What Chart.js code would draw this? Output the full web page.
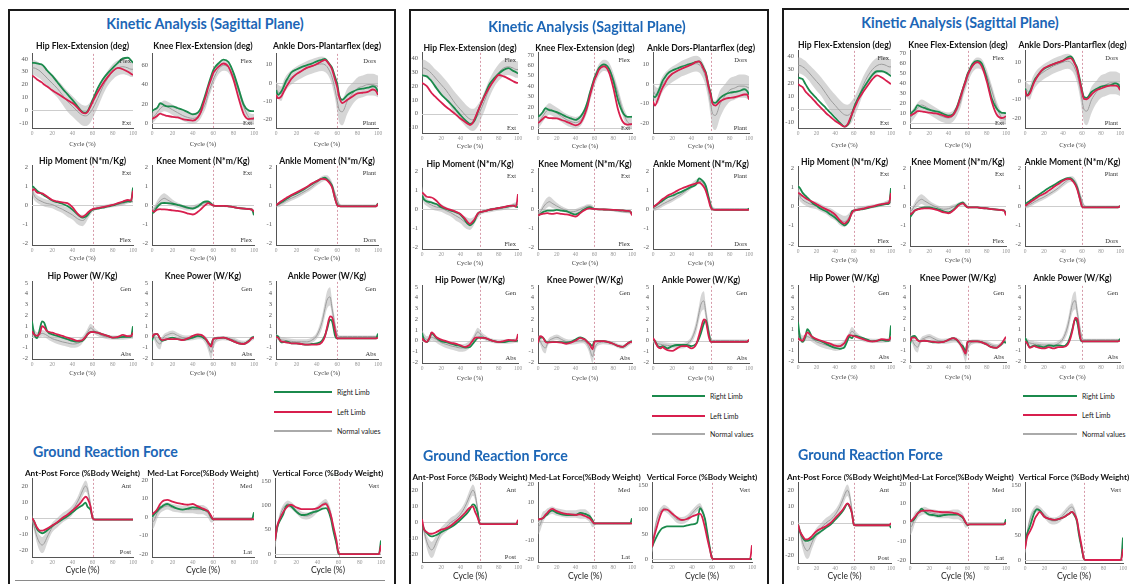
<!DOCTYPE html>
<html><head><meta charset="utf-8">
<script src="https://cdn.jsdelivr.net/npm/chart.js"></script>
<style>
html,body{margin:0;padding:0;background:#fff;}
#page{position:relative;width:1129px;height:584px;overflow:hidden;background:#fff;font-family:Lato,'Open Sans',sans-serif;}
.t{position:absolute;white-space:nowrap;line-height:1;}
canvas{position:absolute;}
</style></head><body><div id="page"></div>
<script>
// ---- shared x grid (gait cycle %) and tick labels ----
const CYCLE = [0,2,5,8,10,12,15,20,25,30,35,40,45,48,50,53,55,58,60,62,65,70,75,80,85,90,95,98,100];
const X_TICKS = [0,20,40,60,80,100];
const HIPFLEX_TICKS = [-10,0,10,20,30,40];
const KNEEFLEX_TICKS = [0,10,20,30,40,50,60,70];
const ANKLEDF_TICKS = [-20,-10,0,10];
const MOM_TICKS = [-2,-1,0,1,2];
const POW_TICKS = [-2,-1,0,1,2,3,4,5];
const APF_TICKS = [-20,-10,0,10,20];
const MLF_TICKS = [-20,-15,-10,-5,0,5,10,15,20];
const VF_TICKS = [0,50,100,150];

// ---- normal values (mean, lower, upper) ----
const N_HIPFLEX_MEAN = [33,33,32,30.5,29,27.5,25,21,17,12,7,3,-1,-3,-4,-4.5,-4,-1.5,1,4,9,18,25,30,33,34,33,32,32];
const N_HIPFLEX_LO = [27,27,26,24.5,23,21.5,18.5,14,10,4.5,-1,-5,-9,-11,-12,-12.5,-12,-9.5,-6.5,-3,2,11.5,19,24,27,28,27,26,26];
const N_HIPFLEX_HI = [39,39,38,36.5,35,33.5,31.5,28,24,19.5,15,11,7,5,4,3.5,4,6.5,8.5,11,16,24.5,31,36,39,40,39,38,38];
const N_KNEEFLEX_MEAN = [5,7,11,15,17,18,17,14,11,8,6,5,7,11,15,22,30,39,45,50,56,60,58,48,33,17,6,4,4];
const N_KNEEFLEX_LO = [-0.5,1.5,5.5,9.5,11.5,12.5,11.5,8.5,5.5,2.5,0.5,-0.5,1.5,5.5,9.5,16.5,24.5,33.5,39.5,44.5,50.5,54.5,52.5,42.5,27.5,11.5,0.5,-1.5,-1.5];
const N_KNEEFLEX_HI = [10.5,12.5,16.5,20.5,22.5,23.5,22.5,19.5,16.5,13.5,11.5,10.5,12.5,16.5,20.5,27.5,35.5,44.5,50.5,55.5,61.5,65.5,63.5,53.5,38.5,22.5,11.5,9.5,9.5];
const N_ANKLEDF_MEAN = [-3,-5,-6,-2,0,1.5,3,5,6.5,8,9,10,10.5,10,9,6,3,-4,-10,-15,-16,-10,-6,-3,-2,-1,-1,-1.5,-2];
const N_ANKLEDF_LO = [-7,-9,-10,-6,-4,-2.5,-1,1,2.5,4,5,6,6.5,6,5,2,-1.5,-9,-16,-22,-23.5,-17,-12,-9,-8,-7,-7,-7.5,-8];
const N_ANKLEDF_HI = [1,-1,-2,2,4,5.5,7,9,10.5,12,13,14,14.5,14,13,10,7.5,1,-4,-8,-8.5,-3,0,3,4,5,5,4.5,4];
const N_HIPMOM_MEAN = [0.9,0.55,0.35,0.25,0.2,0.15,0.1,0.05,-0.08,-0.2,-0.35,-0.5,-0.7,-0.78,-0.8,-0.7,-0.55,-0.35,-0.25,-0.18,-0.12,-0.08,-0.03,0,0.05,0.1,0.2,0.25,0.2];
const N_HIPMOM_LO = [0.6,0.3,0.15,0.05,0,-0.05,-0.1,-0.15,-0.28,-0.4,-0.6,-0.75,-1,-1.08,-1.1,-0.95,-0.75,-0.5,-0.35,-0.28,-0.22,-0.18,-0.13,-0.1,-0.05,0,0.1,0.15,0.1];
const N_HIPMOM_HI = [1.2,0.8,0.55,0.45,0.4,0.35,0.3,0.25,0.12,0,-0.1,-0.25,-0.4,-0.48,-0.5,-0.45,-0.35,-0.2,-0.15,-0.08,-0.02,0.02,0.07,0.1,0.15,0.2,0.3,0.35,0.3];
const N_KNEEMOM_MEAN = [-0.3,-0.2,0.05,0.25,0.33,0.38,0.3,0.15,0.02,-0.08,-0.15,-0.12,-0.02,0.05,0.1,0.15,0.15,0.1,0,-0.03,-0.03,-0.03,-0.05,-0.08,-0.12,-0.15,-0.17,-0.2,-0.3];
const N_KNEEMOM_LO = [-0.45,-0.35,-0.15,0,0.08,0.13,0.05,-0.02,-0.12,-0.2,-0.27,-0.24,-0.14,-0.05,0,0.05,0.05,0,-0.06,-0.08,-0.08,-0.08,-0.1,-0.13,-0.17,-0.2,-0.22,-0.25,-0.35];
const N_KNEEMOM_HI = [-0.15,-0.05,0.25,0.5,0.6,0.65,0.55,0.32,0.16,0.04,-0.03,0,0.1,0.15,0.2,0.25,0.25,0.2,0.06,0.02,0.02,0.02,0,-0.03,-0.07,-0.1,-0.12,-0.15,-0.25];
const N_ANKLEMOM_MEAN = [0,0.03,0.1,0.18,0.25,0.3,0.38,0.5,0.65,0.8,0.98,1.2,1.4,1.45,1.45,1.3,1.1,0.6,0.3,0.05,0,0,0,0,0,0,0,0,0];
const N_ANKLEMOM_LO = [-0.1,-0.1,-0.03,0.05,0.12,0.17,0.25,0.37,0.52,0.67,0.85,1.06,1.25,1.3,1.3,1.15,0.95,0.45,0.15,-0.05,-0.05,-0.05,-0.05,-0.05,-0.05,-0.05,-0.05,-0.05,-0.05];
const N_ANKLEMOM_HI = [0.1,0.15,0.23,0.31,0.38,0.43,0.51,0.63,0.78,0.93,1.11,1.34,1.55,1.6,1.6,1.45,1.25,0.75,0.45,0.15,0.05,0.05,0.05,0.05,0.05,0.05,0.05,0.05,0.05];
const N_HIPPOW_MEAN = [0.5,0.3,0.1,0.2,0.3,0.25,0.1,-0.2,-0.35,-0.5,-0.6,-0.7,-0.65,-0.5,-0.3,0.1,0.4,0.8,0.7,0.5,0.3,0.05,-0.05,-0.1,-0.1,-0.1,-0.05,0,0];
const N_HIPPOW_LO = [0,-0.1,-0.2,-0.1,0,-0.05,-0.2,-0.5,-0.7,-0.85,-0.95,-1.05,-1,-0.85,-0.6,-0.2,0.05,0.4,0.35,0.2,0.05,-0.15,-0.25,-0.3,-0.3,-0.3,-0.25,-0.2,-0.2];
const N_HIPPOW_HI = [1,0.7,0.4,0.5,0.6,0.55,0.4,0.1,0,-0.15,-0.25,-0.35,-0.3,-0.15,0,0.4,0.75,1.2,1.05,0.8,0.55,0.25,0.15,0.1,0.1,0.1,0.15,0.2,0.2];
const N_KNEEPOW_MEAN = [0.2,0,-0.5,-0.7,-0.3,0,0.15,0.3,0.1,-0.1,-0.15,-0.1,0,0,-0.1,-0.4,-0.8,-1.5,-0.8,-0.4,-0.2,-0.15,-0.2,-0.3,-0.5,-0.6,-0.4,-0.2,-0.1];
const N_KNEEPOW_LO = [-0.1,-0.3,-1,-1.2,-0.6,-0.25,-0.1,0.05,-0.15,-0.35,-0.4,-0.35,-0.25,-0.25,-0.35,-0.8,-1.3,-2.1,-1.3,-0.7,-0.45,-0.35,-0.4,-0.5,-0.7,-0.8,-0.6,-0.4,-0.3];
const N_KNEEPOW_HI = [0.5,0.3,0,-0.2,0,0.25,0.4,0.55,0.35,0.15,0.1,0.15,0.25,0.25,0.15,0,-0.3,-0.9,-0.3,-0.1,0.05,0.05,0,-0.1,-0.3,-0.4,-0.2,0,0.1];
const N_ANKLEPOW_MEAN = [0,-0.1,-0.3,-0.35,-0.4,-0.42,-0.45,-0.5,-0.5,-0.5,-0.35,0.1,1.3,2.6,3.4,3.7,2.6,1,0.2,0,0,0,0,0,0,0,0,0,0];
const N_ANKLEPOW_LO = [-0.25,-0.35,-0.55,-0.6,-0.65,-0.67,-0.7,-0.75,-0.75,-0.75,-0.6,-0.2,0.7,1.9,2.6,2.9,1.9,0.5,0,-0.1,-0.1,-0.1,-0.1,-0.1,-0.1,-0.1,-0.1,-0.1,-0.1];
const N_ANKLEPOW_HI = [0.25,0.15,-0.05,-0.1,-0.15,-0.17,-0.2,-0.25,-0.25,-0.25,-0.1,0.4,1.9,3.3,4.2,4.6,3.3,1.5,0.4,0.1,0.1,0.1,0.1,0.1,0.1,0.1,0.1,0.1,0.1];
const N_APF_MEAN = [0,-5,-12,-16,-17,-16,-12,-6,-3,0,2,5,10,14,17,20,18,8,0,-1,-1,-1,-1,-1,-1,-1,-1,-1,-1];
const N_APF_LO = [-2,-8,-16,-21,-22,-21,-16,-9,-6,-3,-1,2,7,10.5,13.5,16.5,14.5,5,-2,-1.3,-1.3,-1.3,-1.3,-1.3,-1.3,-1.3,-1.3,-1.3,-1.3];
const N_APF_HI = [2,-2,-8,-11,-12,-11,-8,-3,0,3,5,8,13,17.5,20.5,23.5,21.5,11,2,-0.7,-0.7,-0.7,-0.7,-0.7,-0.7,-0.7,-0.7,-0.7,-0.7];
const N_MLF_MEAN = [-3,-2,2,4,5,5.5,6,5,4.5,4,4,4,4,4,4,3,2,-1,-1.5,-1.2,-1.2,-1.2,-1.2,-1.2,-1.2,-1.2,-1.2,-1.2,-1.2];
const N_MLF_LO = [-7,-5.5,-1,2,3,3.5,4,3,2.5,2,2,2,1.5,1.5,1.5,0.5,-0.5,-3,-2.5,-1.5,-1.5,-1.5,-1.5,-1.5,-1.5,-1.5,-1.5,-1.5,-1.5];
const N_MLF_HI = [1,1.5,5,6,7,7.5,8,7,6.5,6,6,6,6.5,6.5,6.5,5.5,4.5,1,-0.5,-0.9,-0.9,-0.9,-0.9,-0.9,-0.9,-0.9,-0.9,-0.9,-0.9];
const N_VF_MEAN = [15,50,80,95,100,103,100,90,80,78,82,92,103,106,100,80,55,20,2,0,0,0,0,0,0,0,0,0,0];
const N_VF_LO = [10,42,72,88,93,96,93,83,73,71,75,85,96,99,93,72,47,13,0,0,0,0,0,0,0,0,0,0,0];
const N_VF_HI = [20,58,88,102,107,110,107,97,87,85,89,99,110,113,107,88,63,27,4,0,0,0,0,0,0,0,0,0,0];

// ---- panel 1 (R = right limb / green, L = left limb / red) ----
const P1_HIPFLEX_R = [37,37,36.5,36,35.5,34,31,27,22,17,12.5,8,3,0,-1.5,-2,-1,4,8,11.5,17,24,29,33,37,40.5,41,39,37];
const P1_HIPFLEX_L = [27,26,24,22.5,21.5,20,18.5,15.5,13,10.5,8,5.5,2,-0.5,-2,-2.5,-1.5,3,6.5,9.5,14,20.5,26,30.5,33,32,30,28.5,27.5];
const P1_KNEEFLEX_R = [12.5,14,15.8,20.7,20,18.5,17.4,17.4,15.8,14,11.5,9.2,11,16,22,32,39,49,55,58.5,62,66,63.5,52,35.5,19,13,12.5,12.5];
const P1_KNEEFLEX_L = [4.3,5.5,7.5,10,9.2,8.5,7.5,6.6,6,4.3,3.3,2.6,6,12,19,29,37,46,52,55,58.5,62,58.5,45,25.6,9.2,4.3,4.8,5.3];
const P1_ANKLEDF_R = [-4,-6.7,-5,-1.5,1.2,3,5.7,7.4,8.7,9.7,10.6,11.9,12.7,13.3,12.2,10,8.3,3,-0.5,-7,-9.4,-6.7,-5,-3.7,-3.2,-2.7,-1.9,-2.7,-5];
const P1_ANKLEDF_L = [-6.7,-8.5,-7.6,-4.5,-2.3,-0.5,2.1,4.8,6.5,8.3,9.2,10.4,11.9,12.7,11.9,9.5,7.4,1.5,-2.3,-8,-11.2,-9.4,-7.6,-5.8,-5.5,-5,-3.7,-4.5,-6.7];
const P1_HIPMOM_R = [1.03,0.95,0.78,0.67,0.6,0.53,0.43,0.26,0.17,0.09,-0.03,-0.22,-0.47,-0.6,-0.64,-0.6,-0.52,-0.3,-0.22,-0.2,-0.17,-0.12,-0.05,0,0.09,0.17,0.22,0.2,0.95];
const P1_HIPMOM_L = [0.78,0.86,0.69,0.66,0.64,0.58,0.47,0.29,0.21,0.16,0.12,-0.09,-0.43,-0.57,-0.6,-0.5,-0.4,-0.25,-0.2,-0.17,-0.14,-0.09,-0.03,0.03,0.12,0.21,0.29,0.26,0.78];
const P1_KNEEMOM_R = [-0.43,-0.34,-0.09,0.08,0.12,0.13,0.12,0.09,0.03,-0.03,-0.12,-0.17,-0.05,0.08,0.17,0.21,0.21,0.09,0,-0.02,-0.02,-0.02,-0.05,-0.09,-0.14,-0.17,-0.19,-0.22,-0.52];
const P1_KNEEMOM_L = [-0.26,-0.34,-0.22,-0.2,-0.21,-0.21,-0.22,-0.26,-0.29,-0.34,-0.43,-0.48,-0.34,-0.2,-0.09,0.05,0.12,0.05,0,-0.02,-0.02,-0.02,-0.05,-0.09,-0.14,-0.17,-0.19,-0.22,-0.34];
const P1_ANKLEMOM_R = [0,0.07,0.17,0.27,0.34,0.41,0.52,0.64,0.78,0.95,1.12,1.29,1.43,1.47,1.38,1.2,1.03,0.34,0.05,-0.04,-0.05,-0.05,-0.05,-0.05,-0.05,-0.05,-0.05,-0.05,0.12];
const P1_ANKLEMOM_L = [0,0.09,0.22,0.33,0.4,0.46,0.55,0.69,0.83,0.98,1.16,1.29,1.41,1.4,1.34,1.15,0.95,0.35,0,-0.04,-0.05,-0.05,-0.05,-0.05,-0.05,-0.05,-0.05,-0.05,0.09];
const P1_HIPPOW_R = [1.42,0.3,-0.15,0.8,1.42,1.3,0.5,0.2,0.06,-0.1,-0.24,-0.4,-0.48,-0.45,-0.4,-0.1,0.2,0.42,0.45,0.42,0.36,0.2,0.06,-0.1,-0.1,-0.03,-0.03,-0.03,0.97];
const P1_HIPPOW_L = [0.5,0.2,0.06,0.36,0.97,0.85,0.5,0.36,0.2,0.06,-0.1,-0.24,-0.4,-0.38,-0.33,-0.05,0.2,0.4,0.42,0.4,0.36,0.2,0.06,-0.1,-0.03,0.15,0.03,0.03,0.36];
const P1_KNEEPOW_R = [-0.4,0.15,0.25,-0.24,-0.4,-0.35,-0.24,-0.1,-0.24,-0.3,-0.24,-0.1,0.06,0,-0.1,-0.3,-0.55,-0.76,-0.24,-0.18,-0.15,-0.1,-0.24,-0.45,-0.64,-0.7,-0.4,-0.1,-0.03];
const P1_KNEEPOW_L = [-0.1,0.2,0.25,-0.18,-0.33,-0.3,-0.24,-0.24,-0.24,-0.33,-0.18,0.06,0.2,0.15,0.06,-0.25,-0.55,-0.94,-0.24,-0.18,-0.15,-0.1,-0.24,-0.45,-0.64,-0.7,-0.45,-0.15,-0.1];
const P1_ANKLEPOW_R = [0.06,0,-0.55,-0.5,-0.45,-0.5,-0.64,-0.64,-0.7,-0.76,-0.7,-0.64,-0.4,0.1,0.67,1.58,1.42,0.06,-0.18,-0.18,-0.18,-0.18,-0.18,-0.18,-0.18,-0.18,-0.18,-0.18,0.27];
const P1_ANKLEPOW_L = [-0.03,-0.1,-0.45,-0.5,-0.55,-0.58,-0.64,-0.64,-0.7,-0.76,-0.76,-0.76,-0.55,0,0.82,1.88,1.8,0.5,-0.18,-0.18,-0.18,-0.18,-0.18,-0.18,-0.18,-0.18,-0.18,-0.18,-0.1];
const P1_APF_R = [0,-2,-7,-9,-9.6,-9.2,-7.8,-5,-3,-1,1,3.5,6,7.2,8,9.6,7,5,0,-1,-1,-1,-1,-1,-1,-1,-1,-1,-1];
const P1_APF_L = [0,-2,-6,-8,-8,-7.6,-6.7,-4.7,-2.7,0,2,4.7,7.5,9.5,11.2,13.3,12.2,7,0,-1,-1,-1,-1,-1,-1,-1,-1,-1,-1];
const P1_MLF_R = [0,1.4,3.1,5,5.7,6.5,7,5.7,4.5,4,4.5,5.2,4.9,4.5,4,3.5,3.1,0,-1.2,-1.2,-1.2,-1.2,-1.2,-1.2,-1.2,-1.2,-1.2,-1.2,2.6];
const P1_MLF_L = [1.4,2.3,4,7,8.3,9,9.2,8.3,7.5,7,6.6,7,5.7,5,4.5,3.7,3.1,0.5,-1.2,-1.2,-1.2,-1.2,-1.2,-1.2,-1.2,-1.2,-1.2,-1.2,-1.2];
const P1_VF_R = [28,54,70,83,96,100,98,87,80,81,85,88,93,94,90,70,48,21,0.5,0,0,0,0,0,0,0,0,0,28];
const P1_VF_L = [28,57,74,87,93,98,101,96,92,92,92,94,101,103,96,77,57,28,2,0,0,0,0,0,0,0,0,0,18];

// ---- panel 2 ----
const P2_HIPFLEX_R = [28,27.5,27,25,23.5,21.5,18.5,14,10.5,7,3,-1,-4.7,-6.5,-7.5,-6.5,-4.7,1,4.7,8,13,21,25.5,29,31.7,33,31,30,29];
const P2_HIPFLEX_L = [22.3,21.5,20,17,15,13.5,11.5,8.2,5,2.3,-0.5,-3.5,-6,-7.5,-8.2,-6.5,-3.5,1.5,4.7,8,12.5,18.8,24,28,27,25.4,23.5,22.5,22.3];
const P2_KNEEFLEX_R = [10.6,12,15,18.8,18,17,16.5,15,13,10.6,9,7.6,10.6,14.5,18,26,33,42,48,52,57.6,61,57.6,45.5,27,15,10.6,10.5,10.6];
const P2_KNEEFLEX_L = [4.5,6,8.5,10.6,9.7,9.3,9.2,9,7.5,6,4,2.4,4.5,9,13.6,22,30,40,46,50,56,59,54.5,39,18,6,3,3.3,3.6];
const P2_ANKLEDF_R = [-6,-6.7,-4.4,-0.8,1.7,3.2,5.3,7,8,9,9.8,10.5,11.4,11.7,11,8,6,-1,-4.4,-9,-9.6,-7,-5.3,-4.4,-4,-3.5,-2.6,-3.5,-5.3];
const P2_ANKLEDF_L = [-8.8,-11,-7.9,-4,-1.8,0,2.6,5.3,6.7,7.9,9,10,11.4,11.7,10.5,7.5,5.3,-1.5,-5.3,-10,-11,-8.8,-7.5,-7,-6.7,-6,-5.3,-5.3,-7.9];
const P2_HIPMOM_R = [0.7,0.5,0.4,0.36,0.34,0.3,0.26,0.09,0,-0.09,-0.17,-0.29,-0.6,-0.8,-0.86,-0.75,-0.6,-0.25,-0.17,-0.15,-0.12,-0.05,0,0.05,0.09,0.14,0.17,0.12,0.09];
const P2_HIPMOM_L = [0.86,0.78,0.64,0.62,0.6,0.55,0.43,0.17,0.03,-0.05,-0.14,-0.26,-0.52,-0.72,-0.78,-0.65,-0.52,-0.25,-0.17,-0.15,-0.12,-0.05,0,0.05,0.09,0.16,0.17,0.12,0.78];
const P2_KNEEMOM_R = [-0.34,-0.29,-0.17,-0.11,-0.09,-0.09,-0.09,-0.05,-0.09,-0.12,-0.22,-0.29,-0.17,-0.06,0,0.07,0.09,0.03,0,-0.01,-0.02,-0.03,-0.04,-0.05,-0.06,-0.08,-0.1,-0.12,-0.26];
const P2_KNEEMOM_L = [-0.34,-0.29,-0.26,-0.23,-0.22,-0.24,-0.26,-0.22,-0.26,-0.29,-0.34,-0.4,-0.22,-0.11,-0.05,0.02,0.03,0,0,-0.01,-0.02,-0.03,-0.04,-0.05,-0.06,-0.08,-0.1,-0.12,-0.34];
const P2_ANKLEMOM_R = [0.09,0.15,0.26,0.36,0.43,0.5,0.6,0.69,0.81,0.91,1.03,1.16,1.29,1.6,1.55,1.4,1.21,0.6,0.17,-0.03,-0.05,-0.05,-0.05,-0.05,-0.05,-0.05,-0.05,-0.05,0.03];
const P2_ANKLEMOM_L = [0.09,0.17,0.29,0.43,0.52,0.58,0.69,0.81,0.95,1.07,1.17,1.26,1.34,1.38,1.33,1.15,0.95,0.45,0.09,-0.03,-0.05,-0.05,-0.05,-0.05,-0.05,-0.05,-0.05,-0.05,-0.05];
const P2_HIPPOW_R = [0.7,0.09,-0.15,0.24,0.7,0.55,0.24,-0.06,-0.15,-0.3,-0.42,-0.52,-0.67,-0.64,-0.6,-0.3,-0.06,0.24,0.3,0.28,0.24,0.09,-0.06,-0.15,-0.15,-0.06,0,-0.06,0];
const P2_HIPPOW_L = [0.24,0,-0.12,0.3,0.76,0.64,0.3,0.09,-0.06,-0.21,-0.3,-0.45,-0.6,-0.5,-0.36,0,0.24,0.3,0.24,0.24,0.24,0.09,-0.06,-0.15,-0.06,0.06,0,0,0.6];
const P2_KNEEPOW_R = [-0.2,0.24,0.3,-0.06,-0.15,-0.15,-0.15,-0.12,-0.15,-0.2,-0.12,0.09,0.3,0.2,0.09,-0.15,-0.3,-0.5,-0.06,-0.06,-0.06,-0.06,-0.15,-0.3,-0.5,-0.6,-0.3,-0.12,-0.06];
const P2_KNEEPOW_L = [-0.2,0.4,0.3,-0.12,-0.2,-0.17,-0.15,-0.15,-0.2,-0.3,-0.2,0,0.24,0.15,0.09,-0.2,-0.36,-0.82,-0.12,-0.08,-0.06,-0.06,-0.15,-0.3,-0.5,-0.6,-0.3,-0.15,-0.12];
const P2_ANKLEPOW_R = [0.09,-0.06,-0.52,-0.6,-0.52,-0.6,-0.73,-0.52,-0.42,-0.42,-0.42,-0.52,-0.3,0.2,0.7,1.6,1.9,0.7,-0.06,-0.12,-0.12,-0.12,-0.12,-0.12,-0.12,-0.12,-0.12,-0.12,0];
const P2_ANKLEPOW_L = [0.24,-0.06,-0.6,-0.73,-0.6,-0.75,-0.9,-0.97,-0.73,-0.52,-0.52,-0.73,-0.36,0.5,1.15,1.97,1.8,0.4,-0.12,-0.12,-0.12,-0.12,-0.12,-0.12,-0.12,-0.12,-0.12,-0.12,0.09];
const P2_APF_R = [-1,-4,-6.5,-8.2,-8.6,-8.4,-7.8,-6,-4.5,-3,-1,1.6,4.5,6.5,8.2,11.2,10.6,6,-0.6,-1,-1,-1,-1,-1,-1,-1,-1,-1,-1];
const P2_APF_L = [2,-4,-6,-7,-7,-6.8,-6,-4.5,-3.7,-2,0.4,3,6,8.2,9.2,10,7,3,-0.6,-1,-1,-1,-1,-1,-1,-1,-1,-1,1.6];
const P2_MLF_R = [1.2,1.2,1.7,3,3.8,5,5.8,4.6,3.8,3.4,3.4,3.4,4.6,4.3,4.1,3.4,2.9,0.7,-1,-1,-1,-1,-1,-1,-1,-1,-1,-1,1.7];
const P2_MLF_L = [1.2,1.2,1.7,3.5,4.6,5.8,6.7,5.5,4.6,4.1,3.8,3.4,3.8,3.3,2.9,2.2,1.7,0,-1,-1,-1,-1,-1,-1,-1,-1,-1,-1,-1];
const P2_VF_R = [24,34,47,57,62,64,66,66,66,66,68,70,73,103,98,81,57,21,2,0,0,0,0,0,0,0,0,0,0];
const P2_VF_L = [24,44,66,86,96,100,100,92,84,79,81,86,90,92,86,63,44,18,2,0,0,0,0,0,0,0,0,0,28];

// ---- panel 3 ----
const P3_HIPFLEX_R = [24,23.5,22.7,19,16.7,14.5,12,8.2,4.5,1,-2.7,-6.3,-10,-12,-13,-12,-10,-3.5,1,4.5,9,15.5,21,26,28.7,28.7,27.5,26,25];
const P3_HIPFLEX_L = [19,18,16.7,13.5,12,10.5,8.5,4.6,1,-2.7,-5.7,-8.7,-11,-12.5,-13,-11.5,-8.7,-3.5,-0.2,3,7.5,13,18,22.7,25.6,24,21.5,20,19];
const P3_KNEEFLEX_R = [8.9,10.5,13.3,17.8,17,16,15,13.3,12,11,9,7.4,8.9,14,19,28,34,43,49,53,59,62,59,44,25,14.8,10.4,10,9.8];
const P3_KNEEFLEX_L = [7.4,8.3,9.8,11.8,11.8,11.5,11,10.4,9.7,8.9,7.4,6,8,13,17.8,27,33.4,42,48,52,57,60.7,56,41.4,22,8.9,5,5.5,6.8];
const P3_ANKLEDF_R = [-4,-7.6,-5.8,-2,0.5,2,4,6.5,7.8,9,9.9,10.8,12.6,13.1,12.2,9,6.8,0,-4.9,-8.5,-9,-5.8,-4.3,-3,-2.5,-2.2,-1.3,-1.8,-4];
const P3_ANKLEDF_L = [-4.9,-7.9,-6.7,-2.8,-0.4,1.5,4,6.8,8,9,9.9,10.8,11.9,12.2,11.3,8.5,5.9,-1,-5.8,-9.5,-9.7,-7.2,-4.9,-4,-3,-2.5,-2.5,-3,-4.9];
const P3_HIPMOM_R = [1.07,0.98,0.72,0.57,0.47,0.37,0.21,0.03,-0.14,-0.26,-0.43,-0.6,-0.83,-0.95,-1,-0.9,-0.74,-0.26,-0.22,-0.2,-0.17,-0.14,-0.09,-0.02,0.03,0.09,0.12,0.16,0.98];
const P3_HIPMOM_L = [0.72,0.67,0.55,0.45,0.38,0.33,0.26,0.12,-0.02,-0.14,-0.26,-0.43,-0.74,-0.88,-0.91,-0.8,-0.66,-0.35,-0.22,-0.2,-0.17,-0.12,-0.05,0,0.07,0.12,0.16,0.21,0.72];
const P3_KNEEMOM_R = [-0.57,-0.43,-0.22,-0.13,-0.1,-0.07,-0.05,-0.05,-0.1,-0.17,-0.26,-0.31,-0.19,-0.03,0.09,0.18,0.21,0.03,-0.05,-0.05,-0.05,-0.05,-0.09,-0.1,-0.14,-0.17,-0.19,-0.22,-0.4];
const P3_KNEEMOM_L = [-0.43,-0.36,-0.22,-0.16,-0.14,-0.12,-0.1,-0.1,-0.14,-0.22,-0.31,-0.36,-0.22,-0.08,0.03,0.13,0.16,0.03,-0.05,-0.05,-0.05,-0.05,-0.09,-0.1,-0.14,-0.17,-0.19,-0.22,-0.48];
const P3_ANKLEMOM_R = [0.12,0.19,0.29,0.4,0.47,0.54,0.64,0.81,0.98,1.12,1.28,1.41,1.5,1.5,1.41,1.2,0.98,0.38,0,-0.05,-0.05,-0.05,-0.05,-0.05,-0.05,-0.05,-0.05,-0.05,0.03];
const P3_ANKLEMOM_L = [0.03,0.1,0.21,0.31,0.38,0.45,0.55,0.67,0.84,1.02,1.19,1.36,1.47,1.45,1.36,1.15,0.9,0.35,0,-0.05,-0.05,-0.05,-0.05,-0.05,-0.05,-0.05,-0.05,-0.05,0.03];
const P3_HIPPOW_R = [1.67,0.3,-0.2,0.3,1,0.82,0.3,0,-0.15,-0.36,-0.6,-0.76,-0.85,-0.8,-0.7,-0.1,0.3,0.15,0.4,0.36,0.3,0.15,0,-0.15,-0.09,0,-0.09,-0.09,1.36];
const P3_HIPPOW_L = [0.15,0,-0.09,0.45,0.7,0.58,0.3,0.06,-0.09,-0.24,-0.39,-0.55,-0.6,-0.45,-0.3,0.2,0.45,0.4,0.36,0.3,0.21,0.06,-0.09,-0.15,-0.09,0.06,0,0,0.3];
const P3_KNEEPOW_R = [-0.45,0.3,0.36,0,-0.15,-0.12,-0.09,-0.15,-0.24,-0.24,-0.2,0,0.15,0.05,-0.15,-0.45,-0.6,-1.06,-0.2,-0.15,-0.15,-0.15,-0.24,-0.45,-0.7,-0.76,-0.45,-0.2,-0.3];
const P3_KNEEPOW_L = [-0.15,0.2,0.2,-0.06,-0.15,-0.12,-0.09,-0.15,-0.2,-0.24,-0.2,0,0.15,0.05,-0.09,-0.5,-0.82,-1.3,-0.2,-0.15,-0.15,-0.15,-0.24,-0.45,-0.7,-0.76,-0.4,0,0.3];
const P3_ANKLEPOW_R = [0.2,-0.15,-0.7,-0.6,-0.52,-0.58,-0.6,-0.7,-0.52,-0.6,-0.52,-0.6,-0.3,0.4,1.06,1.97,1.67,0.15,-0.15,-0.15,-0.15,-0.15,-0.15,-0.15,-0.15,-0.15,-0.15,-0.15,0.09];
const P3_ANKLEPOW_L = [-0.15,-0.3,-0.76,-0.65,-0.6,-0.68,-0.76,-0.82,-0.7,-0.82,-0.7,-0.7,-0.45,0.2,0.9,2.1,1.97,0.3,-0.15,-0.15,-0.15,-0.15,-0.15,-0.15,-0.15,-0.15,-0.15,-0.15,-0.09];
const P3_APF_R = [-1,-5,-9,-11,-11,-10.6,-9.7,-7,-5,-3,-1,2,5,7.2,9,11.7,10.5,6,-1,-1.4,-1.4,-1.4,-1.4,-1.4,-1.4,-1.4,-1.4,-1.4,-3];
const P3_APF_L = [-1,-5,-8,-10,-10,-9.5,-8,-5,-3.4,-2,0,3,6,8,9.7,12,11,6,-1,-1.4,-1.4,-1.4,-1.4,-1.4,-1.4,-1.4,-1.4,-1.4,0];
const P3_MLF_R = [0.2,0.5,1.9,4.5,5.6,7,5.6,3.9,3.6,3.1,3.6,3.9,3.9,3.9,3.9,3,2.2,-0.3,-1.7,-1.2,-1.2,-1.2,-1.2,-1.2,-1.2,-1.2,-1.2,-1.2,1.4];
const P3_MLF_L = [0.2,0.9,2.6,4.5,5.3,5.8,6,6,5.6,5.3,5.1,5.1,4.8,4.5,4.3,3.4,2.6,-0.3,-1.5,-1.2,-1.2,-1.2,-1.2,-1.2,-1.2,-1.2,-1.2,-1.2,-0.2];
const P3_VF_R = [25,51,67,86,96,101,99,86,82,80,82,86,92.5,96,90.6,77,51,22,3,0,0,0,0,0,0,0,0,0,45];
const P3_VF_L = [22,45,57,70,82,89,96,86,82,80,82,86,92.5,96,92.5,80,57,25.5,3,0,0,0,0,0,0,0,0,0,22];

// ---- lookup tables built from the arrays above ----
const NORMAL = {
  HIPFLEX:[N_HIPFLEX_MEAN,N_HIPFLEX_LO,N_HIPFLEX_HI], KNEEFLEX:[N_KNEEFLEX_MEAN,N_KNEEFLEX_LO,N_KNEEFLEX_HI], ANKLEDF:[N_ANKLEDF_MEAN,N_ANKLEDF_LO,N_ANKLEDF_HI],
  HIPMOM:[N_HIPMOM_MEAN,N_HIPMOM_LO,N_HIPMOM_HI], KNEEMOM:[N_KNEEMOM_MEAN,N_KNEEMOM_LO,N_KNEEMOM_HI], ANKLEMOM:[N_ANKLEMOM_MEAN,N_ANKLEMOM_LO,N_ANKLEMOM_HI],
  HIPPOW:[N_HIPPOW_MEAN,N_HIPPOW_LO,N_HIPPOW_HI], KNEEPOW:[N_KNEEPOW_MEAN,N_KNEEPOW_LO,N_KNEEPOW_HI], ANKLEPOW:[N_ANKLEPOW_MEAN,N_ANKLEPOW_LO,N_ANKLEPOW_HI],
  APF:[N_APF_MEAN,N_APF_LO,N_APF_HI], MLF:[N_MLF_MEAN,N_MLF_LO,N_MLF_HI], VF:[N_VF_MEAN,N_VF_LO,N_VF_HI]
};
const SERIES = {
  P1:{HIPFLEX:[P1_HIPFLEX_R,P1_HIPFLEX_L],KNEEFLEX:[P1_KNEEFLEX_R,P1_KNEEFLEX_L],ANKLEDF:[P1_ANKLEDF_R,P1_ANKLEDF_L],
      HIPMOM:[P1_HIPMOM_R,P1_HIPMOM_L],KNEEMOM:[P1_KNEEMOM_R,P1_KNEEMOM_L],ANKLEMOM:[P1_ANKLEMOM_R,P1_ANKLEMOM_L],
      HIPPOW:[P1_HIPPOW_R,P1_HIPPOW_L],KNEEPOW:[P1_KNEEPOW_R,P1_KNEEPOW_L],ANKLEPOW:[P1_ANKLEPOW_R,P1_ANKLEPOW_L],
      APF:[P1_APF_R,P1_APF_L],MLF:[P1_MLF_R,P1_MLF_L],VF:[P1_VF_R,P1_VF_L]},
  P2:{HIPFLEX:[P2_HIPFLEX_R,P2_HIPFLEX_L],KNEEFLEX:[P2_KNEEFLEX_R,P2_KNEEFLEX_L],ANKLEDF:[P2_ANKLEDF_R,P2_ANKLEDF_L],
      HIPMOM:[P2_HIPMOM_R,P2_HIPMOM_L],KNEEMOM:[P2_KNEEMOM_R,P2_KNEEMOM_L],ANKLEMOM:[P2_ANKLEMOM_R,P2_ANKLEMOM_L],
      HIPPOW:[P2_HIPPOW_R,P2_HIPPOW_L],KNEEPOW:[P2_KNEEPOW_R,P2_KNEEPOW_L],ANKLEPOW:[P2_ANKLEPOW_R,P2_ANKLEPOW_L],
      APF:[P2_APF_R,P2_APF_L],MLF:[P2_MLF_R,P2_MLF_L],VF:[P2_VF_R,P2_VF_L]},
  P3:{HIPFLEX:[P3_HIPFLEX_R,P3_HIPFLEX_L],KNEEFLEX:[P3_KNEEFLEX_R,P3_KNEEFLEX_L],ANKLEDF:[P3_ANKLEDF_R,P3_ANKLEDF_L],
      HIPMOM:[P3_HIPMOM_R,P3_HIPMOM_L],KNEEMOM:[P3_KNEEMOM_R,P3_KNEEMOM_L],ANKLEMOM:[P3_ANKLEMOM_R,P3_ANKLEMOM_L],
      HIPPOW:[P3_HIPPOW_R,P3_HIPPOW_L],KNEEPOW:[P3_KNEEPOW_R,P3_KNEEPOW_L],ANKLEPOW:[P3_ANKLEPOW_R,P3_ANKLEPOW_L],
      APF:[P3_APF_R,P3_APF_L],MLF:[P3_MLF_R,P3_MLF_L],VF:[P3_VF_R,P3_VF_L]}
};
const TYPES = [
  [{key:'HIPFLEX',title:'Hip Flex-Extension (deg)',min:-14,max:44,ticks:HIPFLEX_TICKS,top:'Flex',bot:'Ext'},
   {key:'KNEEFLEX',title:'Knee Flex-Extension (deg)',min:-5,max:72,ticks:KNEEFLEX_TICKS,top:'Flex',bot:'Ext'},
   {key:'ANKLEDF',title:'Ankle Dors-Plantarflex (deg)',min:-25,max:16,ticks:ANKLEDF_TICKS,top:'Dors',bot:'Plant'}],
  [{key:'HIPMOM',title:'Hip Moment (N*m/Kg)',min:-2.1,max:2.1,ticks:MOM_TICKS,top:'Ext',bot:'Flex'},
   {key:'KNEEMOM',title:'Knee Moment (N*m/Kg)',min:-2.1,max:2.1,ticks:MOM_TICKS,top:'Ext',bot:'Flex'},
   {key:'ANKLEMOM',title:'Ankle Moment (N*m/Kg)',min:-2.1,max:2.1,ticks:MOM_TICKS,top:'Plant',bot:'Dors'}],
  [{key:'HIPPOW',title:'Hip Power (W/Kg)',min:-2.1,max:5.1,ticks:POW_TICKS,top:'Gen',bot:'Abs'},
   {key:'KNEEPOW',title:'Knee Power (W/Kg)',min:-2.1,max:5.1,ticks:POW_TICKS,top:'Gen',bot:'Abs'},
   {key:'ANKLEPOW',title:'Ankle Power (W/Kg)',min:-2.1,max:5.1,ticks:POW_TICKS,top:'Gen',bot:'Abs'}],
  [{key:'APF',title:'Ant-Post Force (%Body Weight)',min:-24.5,max:24.5,ticks:APF_TICKS,top:'Ant',bot:'Post'},
   {key:'MLF',title:'Med-Lat Force(%Body Weight)',min:-21.5,max:20.5,ticks:MLF_TICKS,top:'Med',bot:'Lat'},
   {key:'VF',title:'Vertical Force (%Body Weight)',min:-6,max:154,ticks:VF_TICKS,top:'Vert',bot:''}]
];

// ---- page layout ----
const PANELS = [
  {id:'P1', cols:[[32,133],[152,254],[276,378]], grfCol3:[275,381],
   rows:[{top:52,bot:128,xt:144,sub:46},{top:164,bot:245,xt:258,sub:161},{top:280,bot:359,xt:373,sub:276},{top:477,bot:557,xt:570,sub:473}],
   title:[205,24], grf:[33,452], legend:{x1:274,x2:332,tx:337,ys:[392,412,431]}, frame:[8,9,388,620], sep:[15,580,370]},
  {id:'P2', cols:[[422,518],[538,632],[653,749]], grfCol3:[652,752],
   rows:[{top:51,bot:133,xt:146,sub:48},{top:167,bot:249,xt:263,sub:164},{top:284,bot:363,xt:378,sub:280},{top:481,bot:562,xt:576,sub:477}],
   title:[587,27], grf:[423,456], legend:{x1:652,x2:705,tx:710,ys:[396,416,434]}, frame:[409,9,360,620]},
  {id:'P3', cols:[[798,891],[910,1006],[1025,1120]], grfCol3:[1025,1123],
   rows:[{top:49,bot:128,xt:145,sub:45},{top:165,bot:246,xt:260,sub:162},{top:284,bot:362,xt:377,sub:278},{top:481,bot:563,xt:576,sub:477}],
   title:[960,23], grf:[798,455], legend:{x1:1023,x2:1077,tx:1082,ys:[396,415,434]}, frame:[782,8,400,620]}
];
const GREEN = '#1b8a4c', RED = '#d81f4e', BLUE = '#1c66b6';

const page = document.getElementById('page');
function text(str, x, y, css, align) {
  const d = document.createElement('div');
  d.className = 't'; d.textContent = str;
  d.style.cssText += css;
  d.style.left = x + 'px'; d.style.top = y + 'px';
  d.style.transform = align === 'left' ? 'translate(0,-50%)' : 'translate(-50%,-50%)';
  page.appendChild(d);
}
function box(x, y, w, h, css) {
  const d = document.createElement('div');
  d.style.cssText = 'position:absolute;left:'+x+'px;top:'+y+'px;width:'+w+'px;height:'+h+'px;' + css;
  page.appendChild(d);
}

const refLines = {
  id: 'refLines',
  beforeDatasetsDraw(chart) {
    const {ctx, chartArea: a, scales: {x, y}} = chart;
    ctx.save();
    if (y.min < 0 && y.max > 0) {
      const py = Math.round(y.getPixelForValue(0)) + 0.5;
      ctx.strokeStyle = '#cdcdcd'; ctx.lineWidth = 1;
      ctx.beginPath(); ctx.moveTo(a.left, py); ctx.lineTo(a.right, py); ctx.stroke();
    }
    const px = Math.round(x.getPixelForValue(60)) + 0.5;
    ctx.strokeStyle = 'rgba(200,120,140,0.75)'; ctx.lineWidth = 1; ctx.setLineDash([2, 2]);
    ctx.beginPath(); ctx.moveTo(px, a.top); ctx.lineTo(px, a.bottom); ctx.stroke();
    ctx.restore();
  },
  afterDraw(chart, args, opts) {
    const {ctx, chartArea: a} = chart;
    ctx.save();
    ctx.font = '6.5px "Liberation Serif"'; ctx.fillStyle = '#333';
    ctx.textAlign = 'right'; ctx.textBaseline = 'middle';
    if (opts.top) ctx.fillText(opts.top, a.right - 2, a.top + 7);
    if (opts.bot) ctx.fillText(opts.bot, a.right - 2, a.bottom - 5);
    ctx.restore();
  }
};

function makeChart(panel, r, c, type) {
  const row = panel.rows[r];
  const [L, R] = (r === 3 && c === 2) ? panel.grfCol3 : panel.cols[c];
  const YW = 18, T = 6, RP = 7;
  const grf = r === 3;
  const xtSize = grf ? 8.5 : 6.5;
  const lh = xtSize * 1.2;
  const cTop = row.top - T;
  const cBot = Math.round(row.xt + lh / 2);
  const H = cBot - cTop, W = (R - L) + YW + RP, XH = cBot - row.bot;
  const cv = document.createElement('canvas');
  cv.width = W; cv.height = H;
  cv.style.left = (L - YW) + 'px'; cv.style.top = cTop + 'px';
  cv.style.width = W + 'px'; cv.style.height = H + 'px';
  page.appendChild(cv);
  text(type.title, (L + R) / 2, row.sub, 'font-weight:700;font-size:' + (grf ? 8.2 : 8.6) + 'px;color:#111;');
  const s = SERIES[panel.id][type.key];
  const n = NORMAL[type.key];
  const pts = arr => CYCLE.map((x, i) => ({x: x, y: arr[i]}));
  new Chart(cv, {
    type: 'line',
    data: {datasets: [
      {data: pts(n[1]), borderWidth: 0, pointRadius: 0, fill: false, order: 4},
      {data: pts(n[2]), borderWidth: 0, pointRadius: 0, fill: '-1', backgroundColor: 'rgba(180,180,180,0.55)', order: 3},
      {data: pts(n[0]), borderColor: '#9c9c9c', borderWidth: 1, pointRadius: 0, fill: false, order: 2},
      {data: pts(s[0]), borderColor: GREEN, borderWidth: 1.8, pointRadius: 0, fill: false, order: 1},
      {data: pts(s[1]), borderColor: RED, borderWidth: 1.8, pointRadius: 0, fill: false, order: 0}
    ]},
    options: {
      responsive: false, animation: false, devicePixelRatio: 1, events: [],
      layout: {padding: {left: 0, top: T, right: RP, bottom: 0}},
      elements: {line: {cubicInterpolationMode: 'monotone'}},
      plugins: {legend: {display: false}, tooltip: {enabled: false}, refLines: {top: type.top, bot: type.bot}},
      scales: {
        x: {type: 'linear', min: 0, max: 100,
            afterBuildTicks: sc => { sc.ticks = X_TICKS.map(v => ({value: v})); },
            afterFit: sc => { sc.height = XH; },
            grid: {display: false, drawTicks: false},
            border: {display: true, color: '#555', width: 1},
            ticks: {font: {family: 'Liberation Serif', size: 5.5}, color: '#999', padding: 2, autoSkip: false, maxRotation: 0},
            title: {display: true, text: 'Cycle (%)', padding: 0,
                    font: {family: grf ? 'Lato' : 'Liberation Serif', size: xtSize}, color: grf ? '#222' : '#444'}},
        y: {type: 'linear', min: type.min, max: type.max,
            afterBuildTicks: sc => { sc.ticks = type.ticks.map(v => ({value: v})); },
            afterFit: sc => { sc.width = YW; },
            grid: {display: false, drawTicks: false},
            border: {display: true, color: '#555', width: 1},
            ticks: {font: {family: 'Liberation Serif', size: 6.5}, color: '#555', padding: 4}}
      }
    },
    plugins: [refLines]
  });
}

PANELS.forEach(p => {
  const f = p.frame;
  box(f[0], f[1], f[2], f[3], 'border:2px solid #1a1a1a;box-sizing:border-box;');
  if (p.sep) box(p.sep[0], p.sep[1], p.sep[2], 1, 'background:#8a8a8a;');
  text('Kinetic Analysis (Sagittal Plane)', p.title[0], p.title[1], 'font-weight:700;font-size:14.3px;color:' + BLUE + ';');
  text('Ground Reaction Force', p.grf[0], p.grf[1], 'font-weight:700;font-size:14.2px;color:' + BLUE + ';', 'left');
  const lg = p.legend;
  const items = [['Right Limb', GREEN, 2], ['Left Limb', RED, 2], ['Normal values', '#aaaaaa', 2.5]];
  items.forEach((it, i) => {
    box(lg.x1, lg.ys[i] - it[2] / 2, lg.x2 - lg.x1, it[2], 'background:' + it[1] + ';');
    text(it[0], lg.tx, lg.ys[i], 'font-size:7px;color:#222;', 'left');
  });
  TYPES.forEach((rowTypes, r) => rowTypes.forEach((t, c) => makeChart(p, r, c, t)));
});
</script></body></html>
